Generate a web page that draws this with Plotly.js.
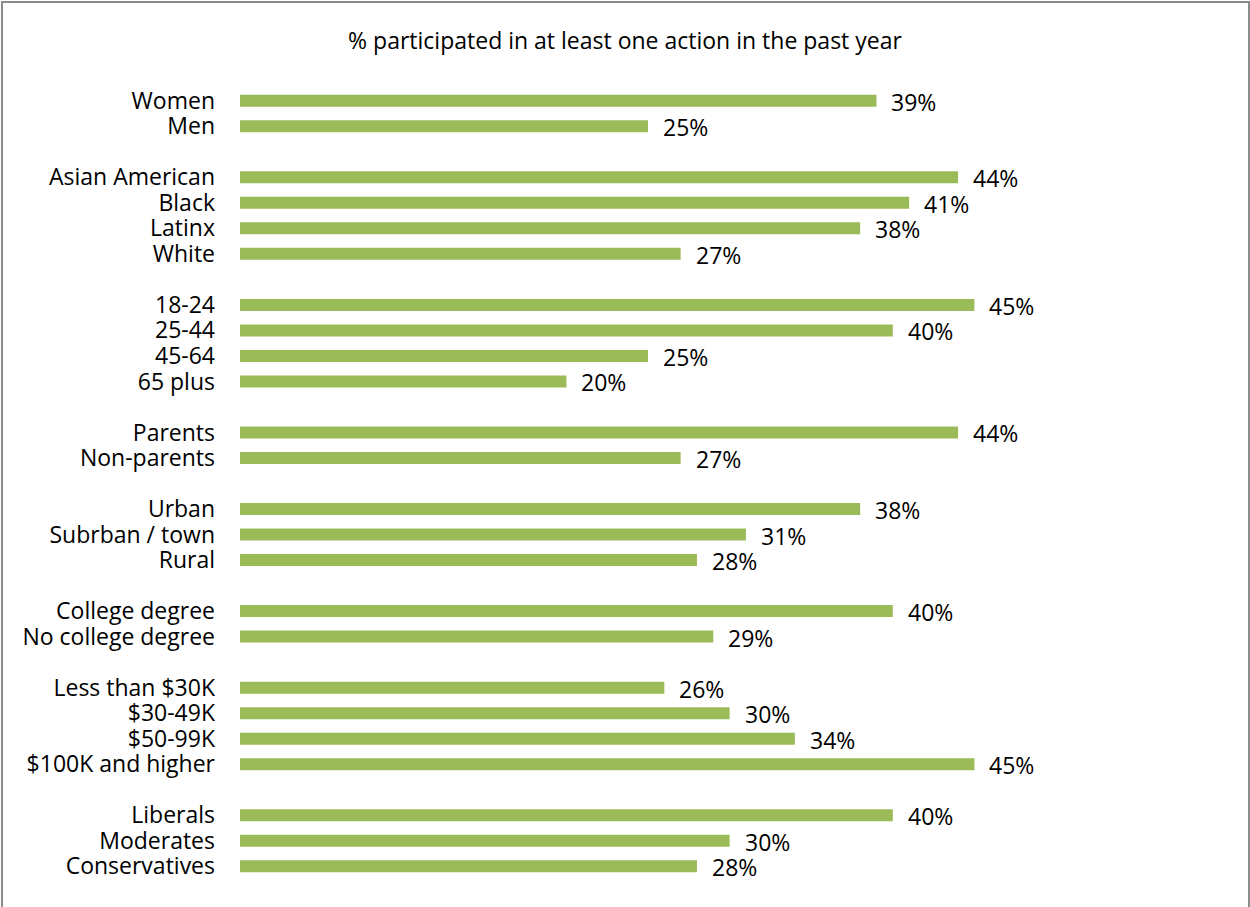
<!DOCTYPE html>
<html>
<head>
<meta charset="utf-8">
<script src="https://cdn.plot.ly/plotly-3.0.1.min.js"></script>
<style>
  html, body { margin: 0; padding: 0; background: #fff; }
  #chart { position: absolute; left: 0; top: 0; width: 1250px; height: 907px; }
  #frame { position: absolute; left: 1px; top: 1px; width: 1245px; height: 940px;
           border: 2px solid #8c8c8c; pointer-events: none; }
</style>
</head>
<body>
<div id="chart"></div>
<div id="frame"></div>
<script>
// Data, by group (groups separated by a blank row)
const groupGender = ["Women", "Men"];
const valGender = [39, 25];
const groupRace = ["Asian American", "Black", "Latinx", "White"];
const valRace = [44, 41, 38, 27];
const groupAge = ["18-24", "25-44", "45-64", "65 plus"];
const valAge = [45, 40, 25, 20];
const groupParent = ["Parents", "Non-parents"];
const valParent = [44, 27];
const groupPlace = ["Urban", "Subrban / town", "Rural"];
const valPlace = [38, 31, 28];
const groupEdu = ["College degree", "No college degree"];
const valEdu = [40, 29];
const groupIncome = ["Less than $30K", "$30-49K", "$50-99K", "$100K and higher"];
const valIncome = [26, 30, 34, 45];
const groupIdeo = ["Liberals", "Moderates", "Conservatives"];
const valIdeo = [40, 30, 28];

const titleText = "% participated in at least one action in the past year";

const groups = [
  [groupGender, valGender], [groupRace, valRace], [groupAge, valAge],
  [groupParent, valParent], [groupPlace, valPlace], [groupEdu, valEdu],
  [groupIncome, valIncome], [groupIdeo, valIdeo]
];

const labels = [], values = [], pos = [];
let row = 0;
groups.forEach(([cats, vals], gi) => {
  if (gi > 0) row += 1; // blank spacer row
  cats.forEach((c, i) => {
    labels.push(c); values.push(vals[i]); pos.push(row);
    row += 1;
  });
});
const lastRow = row - 1;

const FONT = "'Open Sans', sans-serif";
const FS = 23;

const trace = {
  type: "bar",
  orientation: "h",
  x: values,
  y: pos,
  width: 0.47,
  marker: { color: "#9BBB59", line: { width: 0 } },
  hoverinfo: "skip"
};

const annotations = values.map((v, i) => ({
  x: v, y: pos[i], xref: "x", yref: "y",
  text: v + "%", showarrow: false, xanchor: "left", yanchor: "middle",
  xshift: 13, yshift: -1,
  font: { family: FONT, size: FS, color: "#000" }
}));

const layout = {
  width: 1250, height: 907,
  margin: { l: 240, r: 194, t: 88, b: 28 },
  paper_bgcolor: "#fff", plot_bgcolor: "#fff",
  showlegend: false,
  title: {
    text: titleText, x: 0.5, xref: "container", xanchor: "center",
    y: 1 - 41 / 907, yref: "container", yanchor: "middle",
    font: { family: FONT, size: FS, color: "#000" }
  },
  xaxis: {
    range: [0, 50], showgrid: false, zeroline: false, showline: false,
    showticklabels: false, ticks: "", fixedrange: true
  },
  yaxis: {
    range: [lastRow + 0.5, -0.5], tickmode: "array", tickvals: pos, ticktext: labels,
    showgrid: false, zeroline: false, showline: false, ticks: "",
    ticklabelstandoff: 24,
    tickfont: { family: FONT, size: FS, color: "#000" }, fixedrange: true
  },
  annotations: annotations
};

Plotly.newPlot("chart", [trace], layout, { displayModeBar: false, staticPlot: true });
</script>
</body>
</html>
